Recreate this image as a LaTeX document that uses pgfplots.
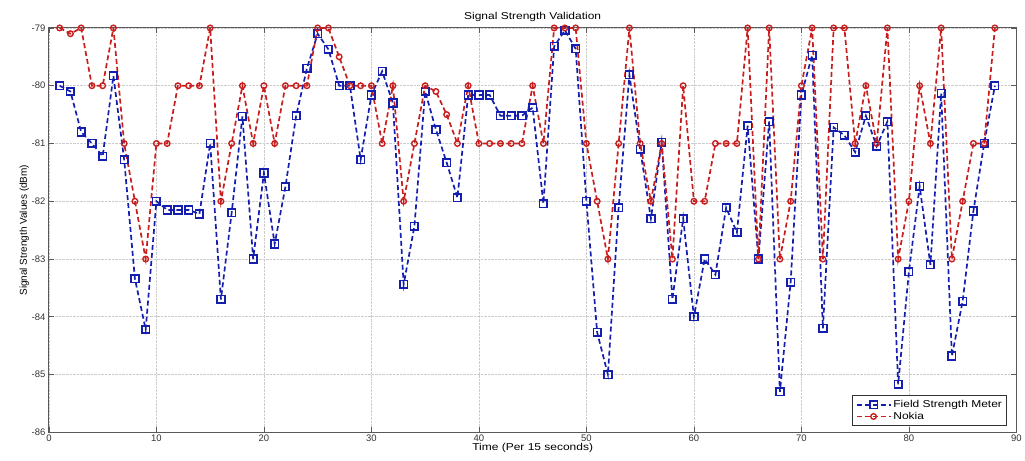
\documentclass[border=0pt]{standalone}
\usepackage{fontspec}
\setmainfont{Liberation Sans}
\usepackage{graphicx}
\usepackage{pgfplots}
\usepackage{pgfplotstable}
\pgfplotsset{compat=1.18}

\definecolor{fsmblue}{RGB}{20,30,175}
\definecolor{nokiared}{RGB}{200,30,30}

% horizontally stretched text, like the original screen capture
\newcommand{\wide}[1]{\scalebox{1.2}[1]{#1}}

% Field Strength Meter readings
\pgfplotstableread{
x y
1 -80.00
2 -80.10
3 -80.80
4 -81.00
5 -81.22
6 -79.83
7 -81.28
8 -83.34
9 -84.22
10 -82.00
11 -82.15
12 -82.15
13 -82.15
14 -82.22
15 -81.00
16 -83.70
17 -82.20
18 -80.53
19 -83.00
20 -81.51
21 -82.74
22 -81.75
23 -80.52
24 -79.70
25 -79.10
26 -79.37
27 -80.00
28 -80.00
29 -81.28
30 -80.16
31 -79.75
32 -80.30
33 -83.44
34 -82.43
35 -80.10
36 -80.76
37 -81.33
38 -81.94
39 -80.16
40 -80.16
41 -80.16
42 -80.52
43 -80.52
44 -80.52
45 -80.38
46 -82.04
47 -79.32
48 -79.04
49 -79.36
50 -82.00
51 -84.27
52 -85.00
53 -82.11
54 -79.81
55 -81.10
56 -82.30
57 -80.98
58 -83.70
59 -82.30
60 -84.00
61 -83.00
62 -83.27
63 -82.11
64 -82.54
65 -80.69
66 -83.00
67 -80.62
68 -85.30
69 -83.40
70 -80.16
71 -79.47
72 -84.20
73 -80.72
74 -80.86
75 -81.15
76 -80.52
77 -81.05
78 -80.62
79 -85.17
80 -83.22
81 -81.74
82 -83.10
83 -80.13
84 -84.68
85 -83.73
86 -82.17
87 -81.00
88 -80.00
}\fsmdata

% Nokia handset readings
\pgfplotstableread{
x y
1 -79
2 -79.1
3 -79
4 -80
5 -80
6 -79
7 -81
8 -82
9 -83
10 -81
11 -81
12 -80
13 -80
14 -80
15 -79
16 -82
17 -81
18 -80
19 -81
20 -80
21 -81
22 -80
23 -80
24 -80
25 -79
26 -79
27 -79.5
28 -80
29 -80
30 -80
31 -81
32 -80
33 -82
34 -81
35 -80
36 -80.1
37 -80.5
38 -81
39 -80
40 -81
41 -81
42 -81
43 -81
44 -81
45 -80
46 -81
47 -79
48 -79
49 -79
50 -81
51 -82
52 -83
53 -81
54 -79
55 -81
56 -82
57 -81
58 -83
59 -80
60 -82
61 -82
62 -81
63 -81
64 -81
65 -79
66 -83
67 -79
68 -83
69 -82
70 -80
71 -79
72 -83
73 -79
74 -79
75 -81
76 -80
77 -81
78 -79
79 -83
80 -82
81 -80
82 -81
83 -79
84 -83
85 -82
86 -81
87 -81
88 -79
}\nokiadata

\begin{document}
\begin{tikzpicture}
\begin{axis}[
  scale only axis,
  width=969pt, height=405pt,
  xmin=0, xmax=90, ymin=-86, ymax=-79,
  xtick={0,10,...,90},
  ytick={-86,-85,...,-79},
  grid=major,
  grid style={densely dotted, gray!40, line width=0.6pt},
  axis line style={line width=1pt, black!65},
  tick style={black!65, line width=0.8pt},
  major tick length=5pt,
  /pgf/number format/assume math mode=true,
  tick label style={font=\fontsize{9.5}{10}\selectfont, black!80},
  xticklabel style={yshift=1pt},
  title={\wide{Signal Strength Validation}},
  title style={font=\fontsize{10}{11}\selectfont, yshift=-3pt},
  xlabel={\wide{Time (Per 15 seconds)}},
  ylabel={Signal Strength Values (dBm)},
  label style={font=\fontsize{10}{11}\selectfont},
  xlabel style={yshift=5pt},
  ylabel style={yshift=-4pt},
  legend style={at={(1,0)}, anchor=south east, xshift=-9pt, yshift=6pt,
    font=\fontsize{10}{11}\selectfont, draw=black!80, line width=1pt,
    row sep=-1pt, inner sep=3pt},
  legend cell align=left,
  legend image code/.code={
    \draw[mark repeat=2, mark phase=2, #1]
      plot coordinates {(0pt,0pt) (17pt,0pt) (34pt,0pt)};
  },
]
\coordinate (sw) at (rel axis cs:0,0);
\addplot[color=fsmblue, line width=1.7pt, dash pattern=on 5pt off 3pt,
  mark=square, mark size=3.8pt, mark options={solid, line width=1.6pt}]
  table[x=x, y=y] {\fsmdata};
\addlegendentry{\wide{Field Strength Meter}}
\addplot[color=nokiared, line width=1.7pt, dash pattern=on 5pt off 3pt,
  mark=o, mark size=2.8pt, mark options={solid, line width=1.4pt}]
  table[x=x, y=y] {\nokiadata};
\addlegendentry{\wide{Nokia}}
\end{axis}
\path (sw) ++(-49pt,-28pt) rectangle ++(1025pt,461pt);
\end{tikzpicture}
\end{document}
